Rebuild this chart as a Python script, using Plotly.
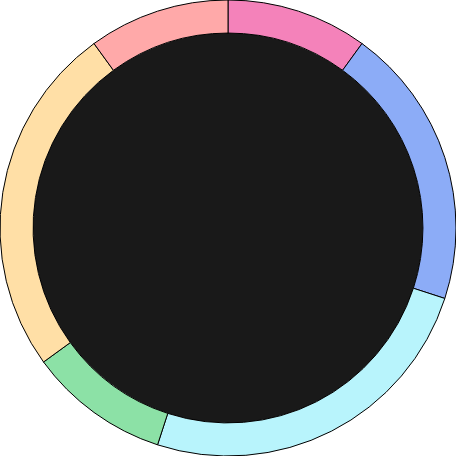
import plotly.graph_objects as go

labels = ["A", "B", "C", "D", "E", "F"]
values = [10, 20, 25, 10, 25, 10]
colors = ["#F482BA", "#8CACF7", "#B8F4FC", "#8CE1A6", "#FFDFA6", "#FFA9A9"]

hole = 0.855

fig = go.Figure(go.Pie(
    labels=labels,
    values=values,
    sort=False,
    direction="clockwise",
    rotation=0,
    hole=hole,
    textinfo="none",
    hoverinfo="label+value",
    marker=dict(colors=colors, line=dict(color="#000000", width=1)),
))

r = hole / 2
fig.add_shape(type="circle", xref="paper", yref="paper",
              x0=0.5 - r, x1=0.5 + r, y0=0.5 - r, y1=0.5 + r,
              fillcolor="#191919", line=dict(width=0), layer="below")

fig.update_layout(
    width=456, height=456,
    margin=dict(l=0, r=0, t=0, b=0),
    showlegend=False,
    paper_bgcolor="white",
    plot_bgcolor="white",
)

fig.write_html("out.html")
